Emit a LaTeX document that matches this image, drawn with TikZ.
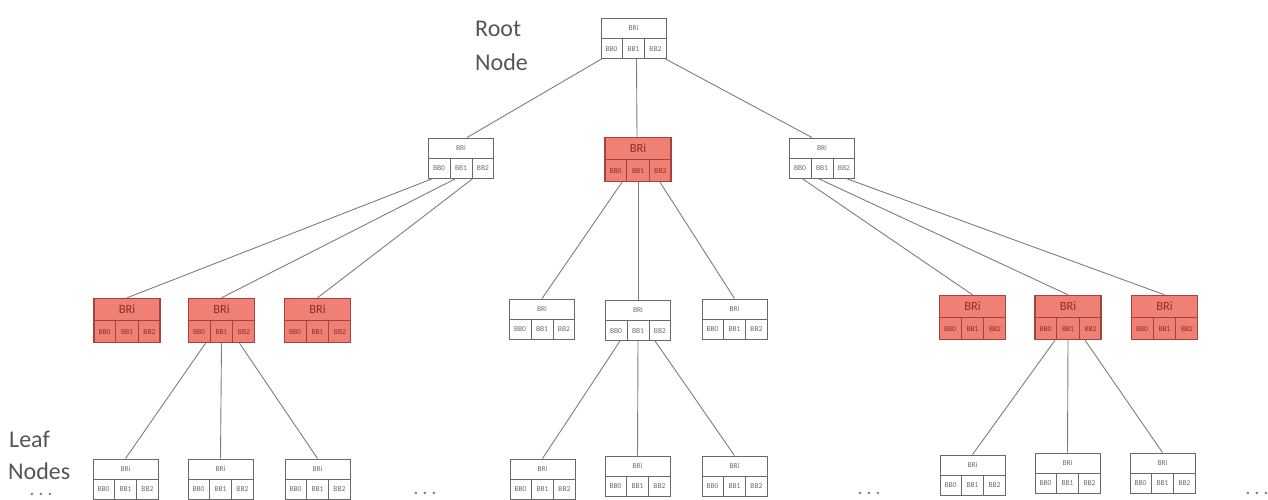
\documentclass[tikz,border=0pt]{standalone}
\usepackage{fontspec}
\setmainfont{Carlito}
\usetikzlibrary{calc}

\definecolor{edgegray}{RGB}{125,125,125}
\definecolor{boxgray}{RGB}{105,105,105}
\definecolor{celltext}{RGB}{110,110,110}
\definecolor{salmon}{RGB}{240,128,115}
\definecolor{redline}{RGB}{165,68,62}
\definecolor{redtext}{RGB}{140,45,40}
\definecolor{labelgray}{RGB}{85,85,85}

\tikzset{
  wbox/.style={draw=boxgray, line width=0.9pt, fill=white,
    minimum width=65pt, minimum height=40pt, inner sep=0pt},
  rbox/.style={draw=redline, line width=1.4pt, fill=salmon,
    minimum width=66pt, minimum height=44pt, inner sep=0pt},
  wdiv/.style={draw=boxgray, line width=0.8pt},
  rdiv/.style={draw=redline, line width=1.2pt},
  wtop/.style={font=\fontsize{7.5}{8}\selectfont, text=celltext, inner sep=0pt},
  rtop/.style={font=\fontsize{12.5}{13}\selectfont, text=redtext, inner sep=0pt},
  wcell/.style={font=\fontsize{7.5}{8}\selectfont, text=celltext, inner sep=0pt},
  rcell/.style={font=\fontsize{7.5}{8}\selectfont, text=redtext, inner sep=0pt},
  conn/.style={draw=edgegray, line width=0.9pt},
  sidelabel/.style={font=\fontsize{24}{30}\selectfont, text=labelgray,
    inner sep=0pt, anchor=base west},
  more/.style={font=\fontsize{16}{16}\selectfont\bfseries, text=edgegray, inner sep=0pt}
}

% one tree node: name, x, y, kind (w = plain, r = highlighted)
\newcommand\treenode[4]{%
  \node[#4box] (#1) at (#2,#3) {};
  \draw[#4div] (#1.west) -- (#1.east);
  \draw[#4div] ($(#1.south west)!1/3!(#1.south east)$) -- ($(#1.west)!1/3!(#1.east)$);
  \draw[#4div] ($(#1.south west)!2/3!(#1.south east)$) -- ($(#1.west)!2/3!(#1.east)$);
  \node[#4top] at ($(#1.north)!0.5!(#1.center)$) {BRi};
  \node[#4cell] at ($($(#1.south west)!1/6!(#1.south east)$)!0.5!($(#1.west)!1/6!(#1.east)$)$) {BB0};
  \node[#4cell] at ($($(#1.south west)!3/6!(#1.south east)$)!0.5!($(#1.west)!3/6!(#1.east)$)$) {BB1};
  \node[#4cell] at ($($(#1.south west)!5/6!(#1.south east)$)!0.5!($(#1.west)!5/6!(#1.east)$)$) {BB2};
}

\begin{document}
\begin{tikzpicture}[x=1pt, y=-1pt]
  \useasboundingbox (0,0) rectangle (1268,499);
  \clip (0,0) rectangle (1268,499);

  % ---- nodes ----
  \treenode{root}{633.5}{38.5}{w}

  \treenode{a}{461}{158}{w}
  \treenode{b}{638}{159.5}{r}
  \treenode{c}{822}{158}{w}

  \treenode{a1}{127}{320.5}{r}
  \treenode{a2}{221.5}{320.5}{r}
  \treenode{a3}{317.5}{320.5}{r}
  \treenode{b1}{542}{319}{w}
  \treenode{b2}{638}{320.5}{w}
  \treenode{b3}{734.5}{319}{w}
  \treenode{c1}{972.5}{317.5}{r}
  \treenode{c2}{1068}{317.5}{r}
  \treenode{c3}{1164.5}{317.5}{r}

  \treenode{a21}{125.5}{479}{w}
  \treenode{a22}{220.5}{479}{w}
  \treenode{a23}{317.5}{479}{w}
  \treenode{b21}{542.5}{479}{w}
  \treenode{b22}{637.5}{476}{w}
  \treenode{b23}{734.5}{476}{w}
  \treenode{c21}{972.5}{475}{w}
  \treenode{c22}{1067.5}{473}{w}
  \treenode{c23}{1162.5}{473}{w}

  % ---- connectors ----
  \draw[conn] ([xshift=1pt]root.south west) -- ([xshift=6pt]a.north);
  \draw[conn] ([xshift=3pt]root.south) -- ([xshift=-1pt]b.north);
  \draw[conn] ([xshift=-1pt]root.south east) -- ([xshift=-10pt]c.north);

  \draw[conn] ([xshift=-28pt]a.south) -- (a1.north);
  \draw[conn] ([xshift=-5pt]a.south) -- (a2.north);
  \draw[conn] ([xshift=12pt]a.south) -- (a3.north);

  \draw[conn] ([xshift=-16pt]b.south) -- (b1.north);
  \draw[conn] (b.south) -- (b2.north);
  \draw[conn] ([xshift=22pt]b.south) -- (b3.north);

  \draw[conn] ([xshift=-20pt]c.south) -- (c1.north);
  \draw[conn] ([xshift=-4pt]c.south) -- (c2.north);
  \draw[conn] ([xshift=24pt]c.south) -- (c3.north);

  \draw[conn] ([xshift=-16pt]a2.south) -- (a21.north);
  \draw[conn] (a2.south) -- (a22.north);
  \draw[conn] ([xshift=18pt]a2.south) -- (a23.north);

  \draw[conn] ([xshift=-18pt]b2.south) -- (b21.north);
  \draw[conn] (b2.south) -- (b22.north);
  \draw[conn] ([xshift=17pt]b2.south) -- (b23.north);

  \draw[conn] ([xshift=-13pt]c2.south) -- (c21.north);
  \draw[conn] (c2.south) -- (c22.north);
  \draw[conn] ([xshift=17pt]c2.south) -- (c23.north);

  % ---- side labels ----
  \node[sidelabel] (rootlabel) at (475,36) {Root};
  \node[sidelabel] (rootlabelb) at (475,70) {Node};
  \node[sidelabel] (leaflabel) at (9,447) {Leaf};
  \node[sidelabel] (leaflabelb) at (8,479) {Nodes};

  \node[more] (m1) at (41,494) {. . .};
  \node[more] (m2) at (425,493) {. . .};
  \node[more] (m3) at (869,493) {. . .};
  \node[more] (m4) at (1257,493) {. . .};
\end{tikzpicture}
\end{document}
